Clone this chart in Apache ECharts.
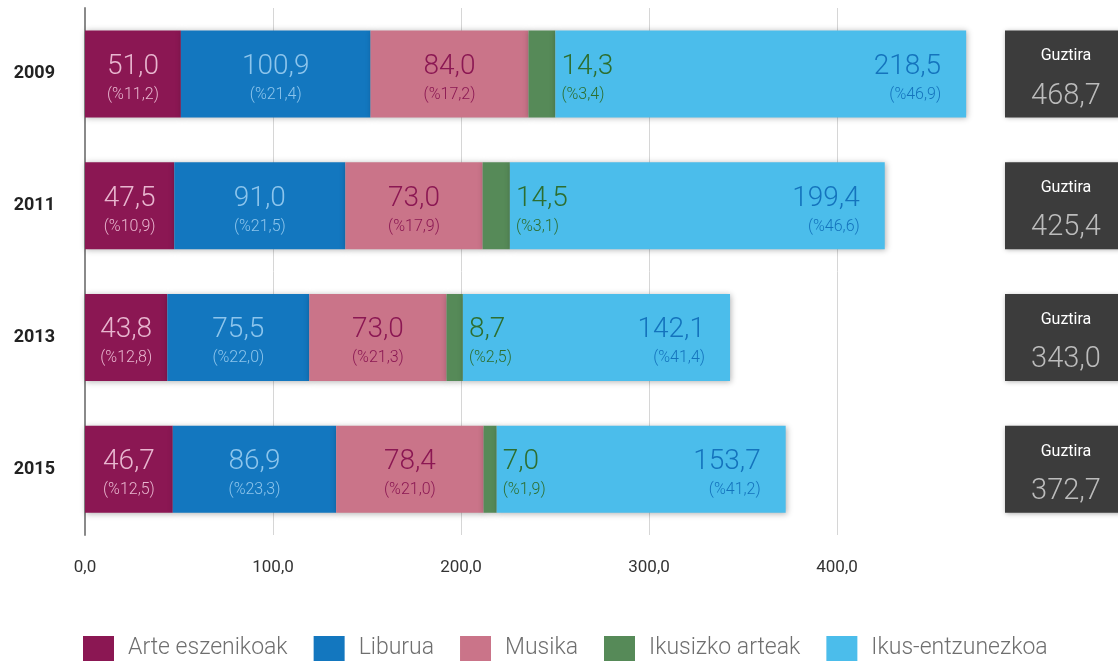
<!DOCTYPE html>
<html>
<head>
<meta charset="utf-8">
<script src="https://cdn.jsdelivr.net/npm/echarts@6/dist/echarts.min.js"></script>
<style>
	html, body { margin: 0; padding: 0; background: #fff; }
	#chart { width: 1118px; height: 665px; }
</style>
</head>
<body>
<div id="chart"></div>
<script>
	// urteak (goitik behera)
	const years = ['2009', '2011', '2013', '2015'];
	// balioak
	const arte = [51.0, 47.5, 43.8, 46.7];
	const liburua = [100.9, 91.0, 75.5, 86.9];
	const musika = [84.0, 73.0, 73.0, 78.4];
	const ikusizko = [14.3, 14.5, 8.7, 7.0];
	const ikusEntz = [218.5, 199.4, 142.1, 153.7];
	// ehunekoak
	const arteP = [11.2, 10.9, 12.8, 12.5];
	const liburuaP = [21.4, 21.5, 22.0, 23.3];
	const musikaP = [17.2, 17.9, 21.3, 21.0];
	const ikusizkoP = [3.4, 3.1, 2.5, 1.9];
	const ikusEntzP = [46.9, 46.6, 41.4, 41.2];
	// guztira
	const totals = [468.7, 425.4, 343.0, 372.7];
	// x ardatza
	const xMin = 0;
	const xMax = 500;
	const xStep = 100;

	const font = 'Roboto, "Liberation Sans", sans-serif';
	const fmt = v => v.toFixed(1).replace('.', ',');

	function makeSeries(name, data, pct, color, labelColor, position, distance) {
		return {
			name: name,
			type: 'bar',
			stack: 'guztira',
			barWidth: 87,
			data: data,
			itemStyle: {
				color: color,
				shadowBlur: 6,
				shadowColor: 'rgba(0,0,0,0.3)',
				shadowOffsetX: 1,
				shadowOffsetY: 1
			},
			label: {
				show: true,
				position: position,
				distance: distance,
				offset: [0, 4],
				formatter: p => '{v|' + fmt(p.value) + '}\n{p|(%' + fmt(pct[p.dataIndex]) + ')}',
				rich: {
					v: { fontFamily: font, fontWeight: 300, fontSize: 28, lineHeight: 34, color: labelColor },
					p: { fontFamily: font, fontWeight: 300, fontSize: 16, lineHeight: 22, color: labelColor }
				}
			}
		};
	}

	const option = {
		backgroundColor: '#fff',
		animation: false,
		grid: {
			left: 85,
			right: 93,
			top: 8,
			bottom: 130,
			outerBoundsMode: 'none',
			containLabel: false
		},
		legend: {
			left: 78,
			top: 631,
			icon: 'rect',
			itemWidth: 31,
			itemHeight: 25,
			itemGap: 26,
			textStyle: {
				fontFamily: font,
				fontWeight: 300,
				fontSize: 23,
				color: '#6f6f6f',
				padding: [0, 0, 0, 9]
			}
		},
		xAxis: {
			type: 'value',
			min: xMin,
			max: xMax,
			interval: xStep,
			axisLine: { show: false },
			axisTick: { show: false },
			axisLabel: {
				margin: 24,
				showMaxLabel: false,
				fontFamily: font,
				fontSize: 17,
				color: '#333',
				formatter: v => fmt(v)
			},
			splitLine: {
				show: true,
				showMaxLine: false,
				lineStyle: { color: '#d6d6d6', width: 1 }
			}
		},
		yAxis: [
			{
				type: 'category',
				data: years,
				inverse: true,
				axisLine: { show: true, lineStyle: { color: '#8a8a8a', width: 2 } },
				axisTick: { show: false },
				axisLabel: {
					margin: 30,
					fontFamily: font,
					fontWeight: 'bold',
					fontSize: 18,
					color: '#222'
				}
			},
			{
				// guztira kutxak
				type: 'category',
				data: years,
				inverse: true,
				position: 'right',
				axisLine: { show: false },
				axisTick: { show: false },
				splitLine: { show: false },
				axisLabel: {
					margin: 41,
					align: 'center',
					verticalAlign: 'middle',
					width: 122,
					height: 84,
					padding: [3, 0, 0, 0],
					backgroundColor: '#3c3c3c',
					shadowBlur: 5,
					shadowColor: 'rgba(0,0,0,0.35)',
					shadowOffsetX: 1,
					shadowOffsetY: 1,
					formatter: (v, i) => '{t|Guztira}\n{v|' + fmt(totals[i]) + '}',
					rich: {
						t: { fontFamily: font, fontWeight: 400, fontSize: 16, lineHeight: 46, color: '#fff', align: 'center' },
						v: { fontFamily: font, fontWeight: 300, fontSize: 29, lineHeight: 34, color: '#bcbcbc', align: 'center' }
					}
				}
			}
		],
		series: [
			makeSeries('Arte eszenikoak', arte, arteP, '#8b1753', '#e8b6cf', 'inside', 5),
			makeSeries('Liburua', liburua, liburuaP, '#1377bf', '#8dc5ec', 'inside', 5),
			makeSeries('Musika', musika, musikaP, '#ca7489', '#8b1753', 'inside', 5),
			makeSeries('Ikusizko arteak', ikusizko, ikusizkoP, '#568a58', '#2d6e2f', 'right', 6),
			makeSeries('Ikus-entzunezkoa', ikusEntz, ikusEntzP, '#4bbdeb', '#1473bd', 'insideRight', 25)
		]
	};

	const myChart = echarts.init(document.getElementById('chart'));
	myChart.setOption(option);
</script>
</body>
</html>
